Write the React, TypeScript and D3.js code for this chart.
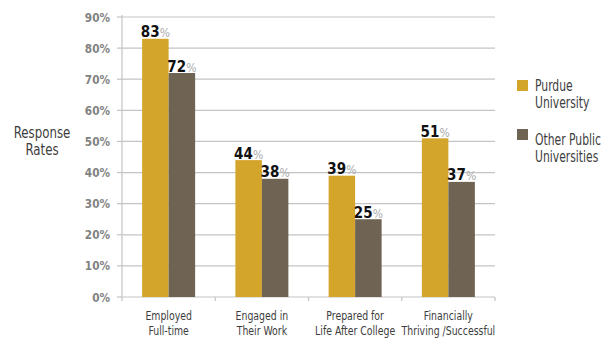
import React from "react";
import * as d3 from "d3";

const categories = [
  ["Employed", "Full-time"],
  ["Engaged in", "Their Work"],
  ["Prepared for", "Life After College"],
  ["Financially", "Thriving /Successful"],
];
const seriesNames = [["Purdue", "University"], ["Other Public", "Universities"]];
const purdue = [83, 44, 39, 51];
const otherPublic = [72, 38, 25, 37];
const yTicks = [0, 10, 20, 30, 40, 50, 60, 70, 80, 90];
const colors = ["#D4A52B", "#6F6454"];

const FONT = "'DejaVu Sans Condensed', 'Open Sans', sans-serif";

function NText(props: { x: number; y: number; sx?: number; size: number; anchor?: string; fill?: string; weight?: string; children: React.ReactNode }) {
  const { x, y, sx = 0.85, size, anchor = "start", fill = "#3d3d3d", weight = "normal", children } = props;
  return (
    <text transform={`translate(${x},${y}) scale(${sx},1)`} textAnchor={anchor} fontSize={size} fill={fill} fontWeight={weight} fontFamily={FONT}>
      {children}
    </text>
  );
}

export default function App() {
  const W = 607, H = 341;
  const left = 122, right = 495, top = 17, bottom = 297;
  const x = d3.scaleBand<number>().domain(d3.range(categories.length)).range([left, right]).padding(0);
  const y = d3.scaleLinear().domain([0, 90]).range([bottom, top]);
  const barW = 26.5;
  const series = [purdue, otherPublic];

  return (
    <svg width={W} height={H} style={{ position: "absolute", left: 0, top: 0, background: "#fff" }} fontFamily={FONT}>
      {yTicks.map((t) => (
        <g key={t}>
          {t > 0 && <line x1={left} x2={right} y1={y(t)} y2={y(t)} stroke="#c4c4c4" strokeWidth={1.2} />}
          <line x1={left - 5} x2={left} y1={y(t)} y2={y(t)} stroke="#c4c4c4" strokeWidth={1.2} />
          <NText x={110} y={y(t) + 4.5} sx={0.9} anchor="end" size={13} weight="bold" fill="#828282">
            {t}%
          </NText>
        </g>
      ))}
      <line x1={left} x2={left} y1={top - 2} y2={bottom} stroke="#c4c4c4" strokeWidth={1.2} />
      <line x1={left} x2={right} y1={bottom} y2={bottom} stroke="#c4c4c4" strokeWidth={1.2} />
      {d3.range(categories.length + 1).map((i) => {
        const xx = i < categories.length ? x(i)! : right;
        return <line key={i} x1={xx} x2={xx} y1={bottom} y2={bottom + 4} stroke="#c4c4c4" strokeWidth={1.2} />;
      })}
      {categories.map((c, i) => {
        const cx = x(i)! + x.bandwidth() / 2;
        return (
          <g key={i}>
            {series.map((s, j) => {
              const bx = cx - barW + j * barW;
              return (
                <g key={j}>
                  <rect x={bx} y={y(s[i])} width={barW} height={bottom - y(s[i])} fill={colors[j]} />
                  <text x={bx + barW / 2} y={y(s[i]) - 1.5} textAnchor="middle" fontSize={15} fontWeight="900" fontFamily="'DejaVu Sans Condensed', sans-serif">
                    <tspan fill="#111">{s[i]}</tspan>
                    <tspan fill="#ababab" fontWeight="normal" fontSize={12}>%</tspan>
                  </text>
                </g>
              );
            })}
            <NText x={cx} y={320} sx={0.8} anchor="middle" size={13}>{c[0]}</NText>
            <NText x={cx} y={335} sx={0.8} anchor="middle" size={13}>{c[1]}</NText>
          </g>
        );
      })}
      <NText x={42} y={138} sx={0.82} anchor="middle" size={16}>Response</NText>
      <NText x={42} y={155} sx={0.82} anchor="middle" size={16}>Rates</NText>
      {seriesNames.map((n, j) => (
        <g key={j}>
          <rect x={517} y={80 + j * 49} width={11} height={11} fill={colors[j]} />
          <NText x={535} y={91 + j * 54} sx={0.8} size={15}>{n[0]}</NText>
          <NText x={535} y={108 + j * 54} sx={0.8} size={15}>{n[1]}</NText>
        </g>
      ))}
    </svg>
  );
}
